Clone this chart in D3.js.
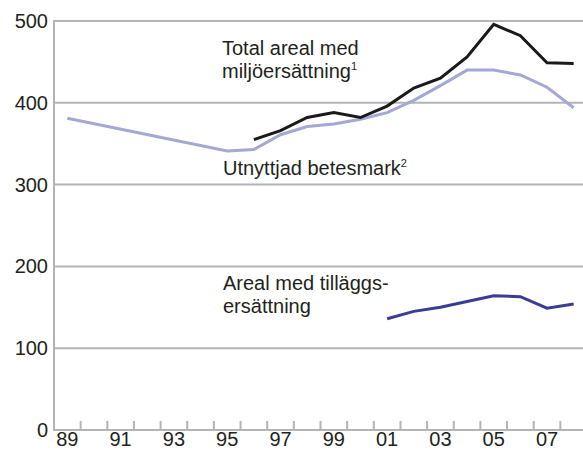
<!DOCTYPE html>
<html>
<head>
<meta charset="utf-8">
<script src="https://cdn.jsdelivr.net/npm/d3@7"></script>
<style>
  body { margin: 0; background: #fff; }
  svg text { font-family: "Liberation Sans", Arial, sans-serif; fill: #231f20; }
</style>
</head>
<body>
<div id="chart"></div>
<script>
// years 1989-2008, null = no value
var years = [1989, 1990, 1991, 1992, 1993, 1994, 1995, 1996, 1997, 1998, 1999,
             2000, 2001, 2002, 2003, 2004, 2005, 2006, 2007, 2008]
var totalAreal = [null, null, null, null, null, null, null, 355, 366, 382, 388,
                  382, 396, 418, 430, 456, 496, 482, 449, 448]
var betesmark = [381, null, null, null, null, null, 341, 343, 361, 371, 374,
                 380, 388, 403, 421, 440, 440, 434, 419, 394]
var tillagg = [null, null, null, null, null, null, null, null, null, null, null,
               null, 136, 145, 150, 157, 164, 163, 149, 154]
var yTicks = [0, 100, 200, 300, 400, 500]

const w = 583, h = 451
var svg = d3.select('#chart').append('svg')
    .attr('width', w)
    .attr('height', h)

var x = d3.scaleBand()
    .domain(years)
    .range([54, 587])
    .padding(0)

var y = d3.scaleLinear()
    .domain([0, 500])
    .range([430, 21])

var grey = '#b3b3b8'

// gridlines
svg.selectAll('.grid')
    .data(yTicks.slice(1))
    .enter().append('line')
    .attr('class', 'grid')
    .attr('x1', 54).attr('x2', w)
    .attr('y1', d => y(d)).attr('y2', d => y(d))
    .attr('stroke', grey).attr('stroke-width', 2)

// y axis line
svg.append('line')
    .attr('x1', 54).attr('x2', 54)
    .attr('y1', y(500) - 1).attr('y2', y(0) + 1)
    .attr('stroke', grey).attr('stroke-width', 2)

// x axis line
svg.append('line')
    .attr('x1', 53).attr('x2', w)
    .attr('y1', y(0)).attr('y2', y(0))
    .attr('stroke', grey).attr('stroke-width', 2)

// ticks between years, pointing up
svg.selectAll('.tick')
    .data(years.slice(1))
    .enter().append('line')
    .attr('class', 'tick')
    .attr('x1', d => x(d)).attr('x2', d => x(d))
    .attr('y1', y(0)).attr('y2', y(0) - 9)
    .attr('stroke', grey).attr('stroke-width', 2)

// y labels
svg.selectAll('.ylab')
    .data(yTicks)
    .enter().append('text')
    .attr('class', 'ylab')
    .attr('x', 48)
    .attr('y', d => y(d))
    .attr('dy', '0.35em')
    .attr('text-anchor', 'end')
    .style('font-size', '20px')
    .text(d => d)

// x labels, every other year
svg.selectAll('.xlab')
    .data(years.filter(d => d % 2 == 1))
    .enter().append('text')
    .attr('class', 'xlab')
    .attr('x', d => x(d) + x.bandwidth() / 2)
    .attr('y', 446)
    .attr('text-anchor', 'middle')
    .style('font-size', '20px')
    .text(d => String(d).slice(2))

var line = d3.line()
    .x(d => x(d[0]) + x.bandwidth() / 2)
    .y(d => y(d[1]))

function pairs(values) {
    return years.map((yr, i) => [yr, values[i]]).filter(d => d[1] != null)
}

var series = [
    { values: betesmark, color: '#a5a7d4', width: 3 },
    { values: totalAreal, color: '#1a1a1a', width: 3 },
    { values: tillagg, color: '#3b3c96', width: 3 }
]

svg.selectAll('.serie')
    .data(series)
    .enter().append('path')
    .attr('class', 'serie')
    .attr('fill', 'none')
    .attr('stroke', d => d.color)
    .attr('stroke-width', d => d.width)
    .attr('stroke-linejoin', 'miter')
    .attr('d', d => line(pairs(d.values)))

// labels
function label(xp, yp, lines) {
    var t = svg.append('text')
        .attr('x', xp).attr('y', yp)
        .style('font-size', '20px')
    lines.forEach((l, i) => {
        t.append('tspan')
            .attr('x', xp)
            .attr('y', yp + i * 23)
            .text(l[0])
        if (l[1]) {
            t.append('tspan')
                .attr('dy', -8)
                .style('font-size', '11px')
                .text(l[1])
        }
    })
}

label(222, 55, [['Total areal med'], ['miljöersättning', '1']])
label(223, 175, [['Utnyttjad betesmark', '2']])
label(223, 290, [['Areal med tilläggs-'], ['ersättning']])
</script>
</body>
</html>
